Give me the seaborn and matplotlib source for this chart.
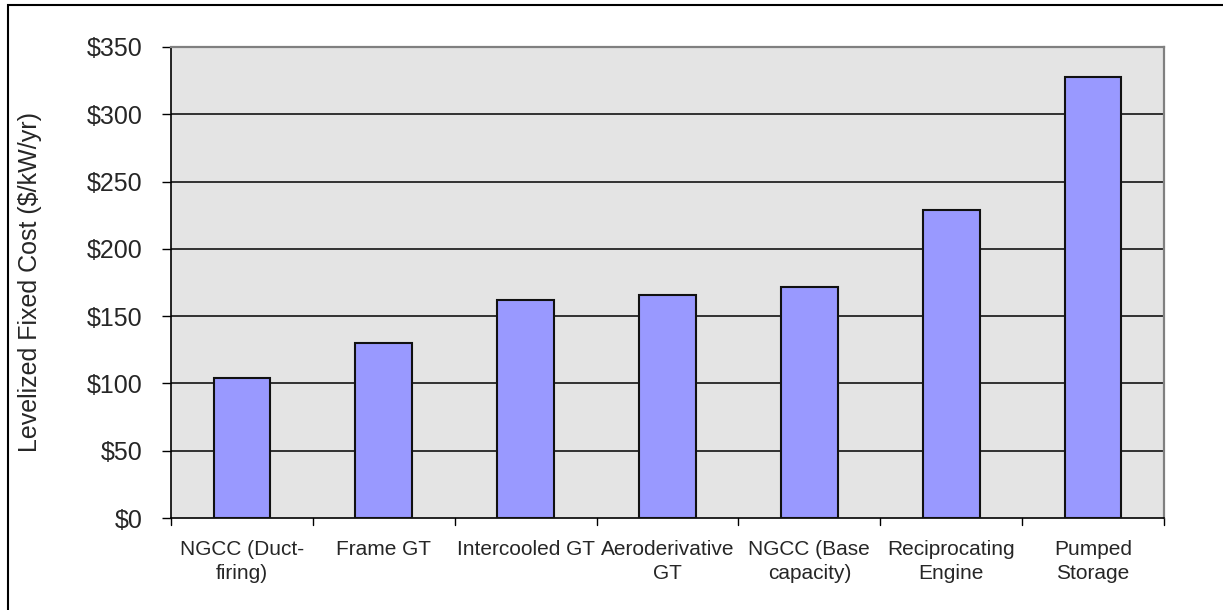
import matplotlib
matplotlib.use("Agg")
import matplotlib.pyplot as plt
from matplotlib.patches import Rectangle
import seaborn as sns
import pandas as pd

categories = [
    "NGCC (Duct-\nfiring)",
    "Frame GT",
    "Intercooled GT",
    "Aeroderivative\nGT",
    "NGCC (Base\ncapacity)",
    "Reciprocating\nEngine",
    "Pumped\nStorage",
]
fixed_cost = [104, 130, 162, 166, 172, 229, 328]
y_ticks = [0, 50, 100, 150, 200, 250, 300, 350]
y_tick_labels = ["$0", "$50", "$100", "$150", "$200", "$250", "$300", "$350"]

df = pd.DataFrame({"technology": categories, "cost": fixed_cost})

sns.set_theme(style="white")
plt.rcParams["font.family"] = ["Liberation Sans", "DejaVu Sans"]

W, H = 1223, 610
fig = plt.figure(figsize=(W / 100, H / 100), dpi=100)
# plot area: x 171..1164 px, y 47..518 px
ax = fig.add_axes([171 / W, 1 - 518 / H, (1164 - 171) / W, (518 - 47) / H])

sns.barplot(data=df, x="technology", y="cost", color="#9999FF", saturation=1,
            width=0.40, edgecolor="#111111", linewidth=1.5, ax=ax, zorder=3)

ax.set_facecolor("#E4E4E4")
ax.set_ylim(0, 350)
ax.set_xlim(-0.5, len(categories) - 0.5)
ax.set_yticks(y_ticks)
ax.set_yticklabels(y_tick_labels, fontsize=18)

# horizontal gridlines at each major tick
for v in y_ticks[1:-1]:
    ax.axhline(v, color="black", linewidth=1.1, zorder=1)

# category labels centred under bars, tick marks on the category boundaries
ax.set_xticks(range(len(categories)))
ax.set_xticklabels(categories, fontsize=15, linespacing=1.35)
ax.tick_params(axis="x", length=0, pad=16)
for b in [i - 0.5 for i in range(len(categories) + 1)]:
    ax.plot([b, b], [0, -7 / 471], transform=ax.get_xaxis_transform(),
            color="black", linewidth=1, clip_on=False)
ax.tick_params(axis="y", direction="out", length=6.5, width=1, color="black",
               left=True, pad=14)

ax.set_xlabel("")
ax.set_ylabel("Levelized Fixed Cost ($/kW/yr)", fontsize=18)
ax.yaxis.set_label_coords(-129 / 993, 0.5)

for side in ["left", "bottom"]:
    ax.spines[side].set_color("black")
    ax.spines[side].set_linewidth(1.2)
for side in ["right", "top"]:
    ax.spines[side].set_color("#808080")
    ax.spines[side].set_linewidth(1.6)

# outer chart border
fig.patches.append(Rectangle((7.5 / W, -0.01), 1.02, 1 - 5 / H + 0.01,
                             transform=fig.transFigure, fill=False,
                             edgecolor="black", linewidth=1.5, clip_on=False))

fig.savefig("out.png", dpi=100)
